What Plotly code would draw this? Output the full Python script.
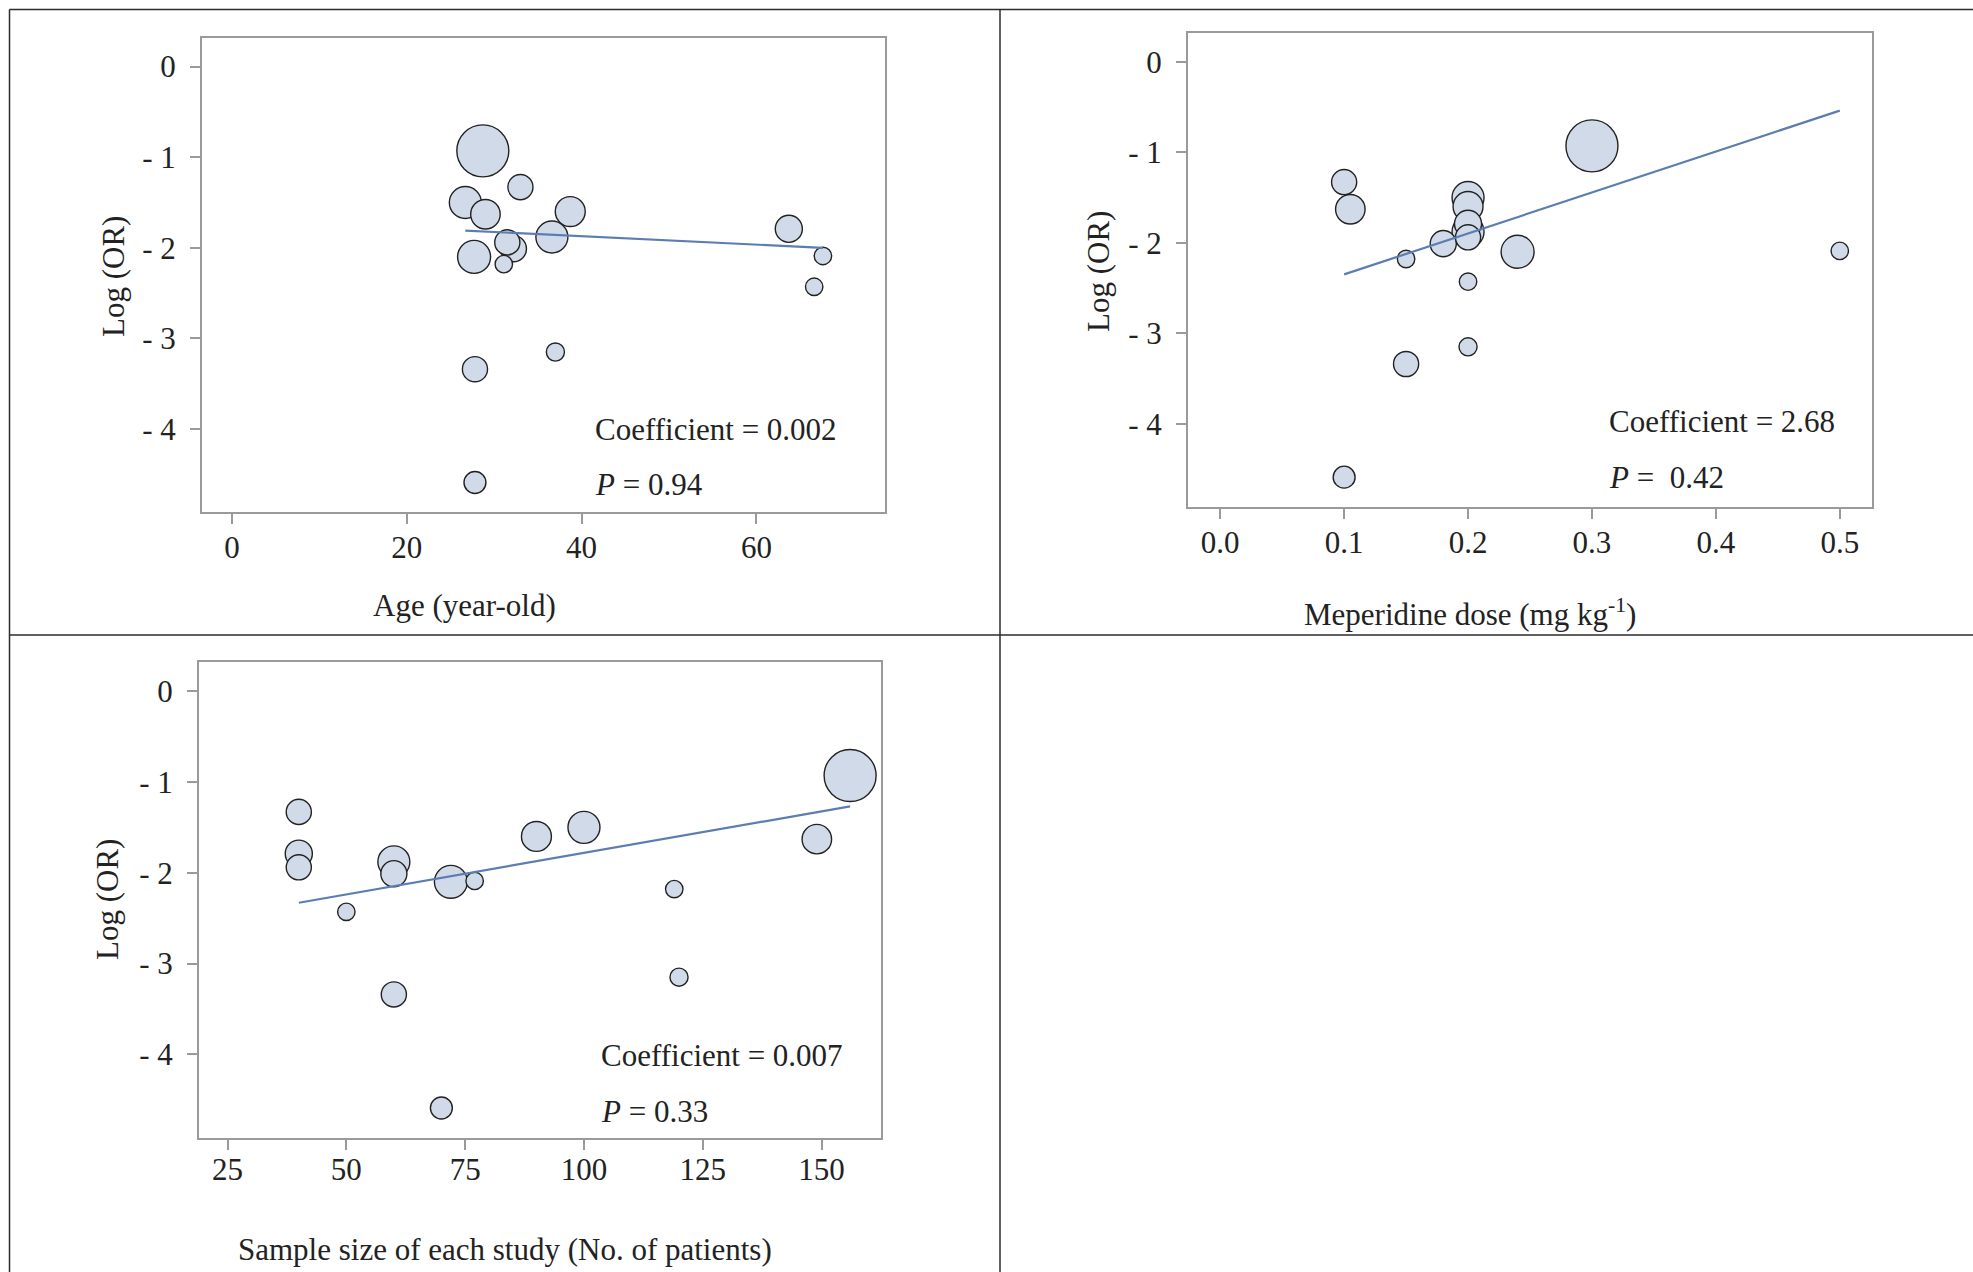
import plotly.graph_objects as go

# ---------------- data ----------------
study = list("ABCDEFGHIJKLMNOP")
log_or = [-0.93, -1.33, -1.50, -1.63, -1.60, -1.79, -1.88, -1.94,
          -2.01, -2.10, -2.18, -2.09, -2.43, -3.15, -3.34, -4.59]
weight = [21.4, 5.0, 8.1, 6.9, 7.1, 5.8, 8.1, 5.0,
          5.4, 8.6, 2.4, 2.4, 2.4, 2.6, 5.0, 3.8]
age = [28.7, 33.0, 26.7, 29.0, 38.7, 63.7, 36.6, 31.5,
       32.2, 27.7, 31.1, 67.6, 66.6, 37.0, 27.8, 27.8]
dose = [0.30, 0.10, 0.20, 0.105, 0.20, 0.20, 0.20, 0.20,
        0.18, 0.24, 0.15, 0.50, 0.20, 0.20, 0.15, 0.10]
sample = [156, 40, 100, 149, 90, 40, 60, 40,
          60, 72, 119, 77, 50, 120, 60, 70]

age_fit_x = [26.7, 67.6]
age_fit_y = [-1.81, -2.00]
dose_fit_x = [0.10, 0.50]
dose_fit_y = [-2.35, -0.54]
sample_fit_x = [40, 156]
sample_fit_y = [-2.33, -1.27]

y_tickvals = [0, -1, -2, -3, -4]
y_ticktext = ["0", "- 1", "- 2", "- 3", "- 4"]
age_ticks = [0, 20, 40, 60]
dose_ticks = [0.0, 0.1, 0.2, 0.3, 0.4, 0.5]
dose_ticktext = ["0.0", "0.1", "0.2", "0.3", "0.4", "0.5"]
sample_ticks = [25, 50, 75, 100, 125, 150]

stats = [
    ("Coefficient = 0.002", "<i>P</i> = 0.94"),
    ("Coefficient = 2.68", "<i>P</i> =  0.42"),
    ("Coefficient = 0.007", "<i>P</i> = 0.33"),
]
x_titles = ["Age (year-old)", "Meperidine dose (mg kg<sup>-1</sup>)",
            "Sample size of each study (No. of patients)"]
y_title = "Log (OR)"

# ---------------- styling / layout ----------------
W, H = 1973, 1272
FONT = "Liberation Serif"
FILL = "#d0dae8"
EDGE = "#222222"
LINE = "#5b7db1"
AX = "#9a9a9a"
TXT = "#222222"


def px(x):
    return x / W


def py(y):
    return 1 - y / H


order = sorted(range(len(study)), key=lambda i: -weight[i])
MAX_R = 26.0  # radius (px) of the largest bubble
sizeref = max(weight) / (2 * MAX_R ** 2)

fig = go.Figure()

panels = [
    dict(x=age, fx=age_fit_x, fy=age_fit_y, xa="x", ya="y"),
    dict(x=dose, fx=dose_fit_x, fy=dose_fit_y, xa="x2", ya="y2"),
    dict(x=sample, fx=sample_fit_x, fy=sample_fit_y, xa="x3", ya="y3"),
]

for p in panels:
    fig.add_trace(go.Scatter(
        x=[p["x"][i] for i in order], y=[log_or[i] for i in order],
        text=[study[i] for i in order],
        mode="markers", xaxis=p["xa"], yaxis=p["ya"],
        marker=dict(size=[weight[i] for i in order], sizemode="area",
                    sizeref=sizeref, color=FILL,
                    line=dict(color=EDGE, width=1.4), opacity=1),
        showlegend=False, hoverinfo="x+y+text"))
    fig.add_trace(go.Scatter(
        x=p["fx"], y=p["fy"], mode="lines", xaxis=p["xa"], yaxis=p["ya"],
        line=dict(color=LINE, width=2.2), showlegend=False, hoverinfo="skip"))

common = dict(showline=True, mirror=True, linecolor=AX, linewidth=2,
              ticks="outside", ticklen=10, tickwidth=1.5, tickcolor=AX,
              showgrid=False, zeroline=False,
              tickfont=dict(family=FONT, size=31, color=TXT))

# pixel boxes: (left, right, top, bottom)
boxes = [(202, 885, 37.6, 511.5), (1188, 1872, 33.3, 507), (199, 881, 662, 1138)]
xranges = [[-3.42, 74.7], [-0.026, 0.526], [19.0, 162.5]]
yranges = [[-4.91, 0.32], [-4.92, 0.314], [-4.92, 0.32]]
xtick_sets = [(age_ticks, [str(t) for t in age_ticks]),
              (dose_ticks, dose_ticktext),
              (sample_ticks, [str(t) for t in sample_ticks])]
x_standoff = [-3, -3, -7]

layout = {}
for k, (l, r, t, b) in enumerate(boxes):
    sfx = "" if k == 0 else str(k + 1)
    layout["xaxis" + sfx] = dict(
        common, domain=[px(l), px(r)], range=xranges[k],
        tickvals=xtick_sets[k][0], ticktext=xtick_sets[k][1],
        anchor="y" + sfx, ticklabelstandoff=x_standoff[k])
    layout["yaxis" + sfx] = dict(
        common, domain=[py(b), py(t)], range=yranges[k],
        tickvals=y_tickvals, ticktext=y_ticktext,
        anchor="x" + sfx, ticklabelstandoff=8)

ann = []
afont = dict(family=FONT, size=31, color=TXT)
# stats text
stat_pos = [(593, 429, 484), (1607, 421, 478), (599, 1055, 1111)]
for (c, pv), (x0, y1, y2) in zip(stats, stat_pos):
    ann.append(dict(x=px(x0), y=py(y1), xref="paper", yref="paper", text=c,
                    showarrow=False, xanchor="left", yanchor="middle", font=afont))
    ann.append(dict(x=px(x0), y=py(y2), xref="paper", yref="paper", text=pv,
                    showarrow=False, xanchor="left", yanchor="middle", font=afont))
# x titles
xt_pos = [(464, 605), (1470, 612), (505, 1249)]
for txt, (cx, cy) in zip(x_titles, xt_pos):
    ann.append(dict(x=px(cx), y=py(cy), xref="paper", yref="paper", text=txt,
                    showarrow=False, xanchor="center", yanchor="middle", font=afont))
# y titles
yt_pos = [(113, 277), (1099, 272), (108, 900)]
for (cx, cy) in yt_pos:
    ann.append(dict(x=px(cx), y=py(cy), xref="paper", yref="paper", text=y_title,
                    showarrow=False, xanchor="center", yanchor="middle",
                    textangle=-90, font=afont))

# cell borders
BC = "#2b2b2b"
shapes = []
for (x0, y0, x1, y1) in [(9.5, 9.5, 9.5, H), (9.5, 9.5, W, 9.5),
                         (1000, 9.5, 1000, H), (9.5, 635, W, 635)]:
    shapes.append(dict(type="line", xref="paper", yref="paper",
                       x0=px(x0), y0=py(y0), x1=px(x1), y1=py(y1),
                       line=dict(color=BC, width=1.5)))

fig.update_layout(
    width=W, height=H, margin=dict(l=0, r=0, t=0, b=0),
    paper_bgcolor="white", plot_bgcolor="white",
    annotations=ann, shapes=shapes, showlegend=False,
    font=dict(family=FONT, color=TXT), **layout)

fig.write_html("out.html", config={"displayModeBar": False},
               post_script="document.body.style.margin='0';")
